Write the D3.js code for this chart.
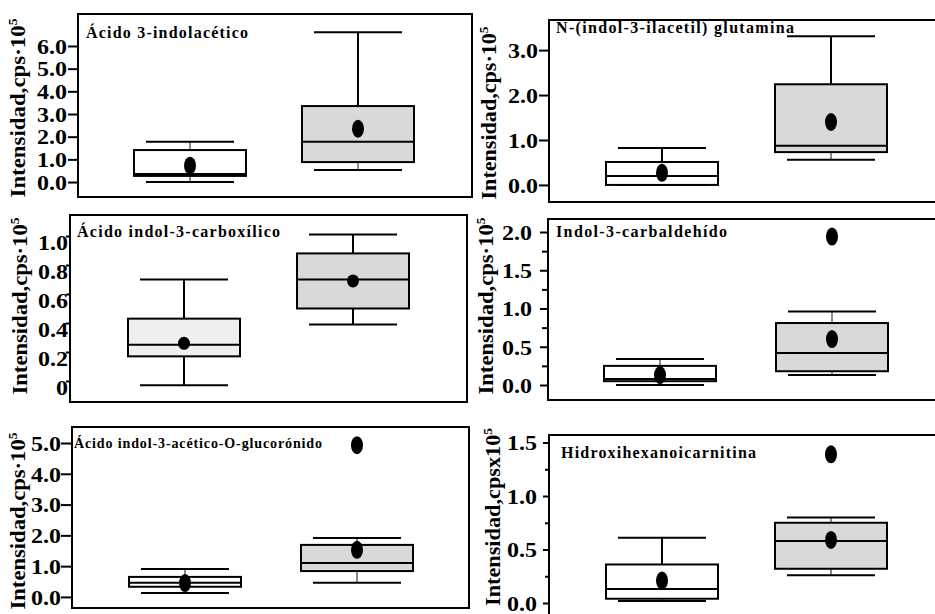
<!DOCTYPE html>
<html lang="es">
<head>
<meta charset="utf-8">
<style>
body { margin: 0; background: #fff; }
svg { font-family: "Liberation Serif", serif; font-weight: bold; }
</style>
<script src="https://cdn.jsdelivr.net/npm/d3@7"></script>
</head>
<body>
<svg width="935" height="614"></svg>
<script>

// compuestos (un panel por compuesto), dos grupos por panel
var titles = ["Ácido 3-indolacético", "N-(indol-3-ilacetil) glutamina",
              "Ácido indol-3-carboxílico", "Indol-3-carbaldehído",
              "Ácido indol-3-acético-O-glucorónido", "Hidroxihexanoicarnitina"];
var yTitles = ["Intensidad,cps·10", "Intensidad,cps·10", "Intensidad,cps·10",
               "Intensidad,cps·10", "Intensidad,cps·10", "Intensidad,cpsx10"];
var groups = ["grupo 1", "grupo 2"];

// estadisticos (x10^5 cps)
var whiskLo = [[0.00, 0.53], [0.00, 0.56], [-0.03, 0.39], [0.00, 0.13], [0.13, 0.46], [0.02, 0.26]];
var q1      = [[0.27, 0.88], [0.00, 0.73], [0.17, 0.50], [0.05, 0.18], [0.33, 0.84], [0.04, 0.32]];
var median  = [[0.35, 1.78], [0.20, 0.87], [0.25, 0.70], [0.08, 0.42], [0.46, 1.10], [0.13, 0.58]];
var q3      = [[1.41, 3.35], [0.51, 2.24], [0.43, 0.88], [0.25, 0.81], [0.65, 1.69], [0.36, 0.75]];
var whiskHi = [[1.78, 6.60], [0.82, 3.31], [0.70, 1.01], [0.34, 0.96], [0.91, 1.91], [0.61, 0.80]];
var means   = [[0.72, 2.35], [0.27, 1.40], [0.26, 0.69], [0.13, 0.60], [0.45, 1.53], [0.21, 0.59]];
var outliers = [[[], []], [[], []], [[], []], [[], [1.94]], [[], [4.93]], [[], [1.39]]];

var tickVals = [[0, 1, 2, 3, 4, 5, 6], [0, 1, 2, 3], [0, 0.2, 0.4, 0.6, 0.8, 1.0],
                [0, 0.5, 1, 1.5, 2], [0, 1, 2, 3, 4, 5], [0, 0.5, 1, 1.5]];
var tickLabels = [["0.0", "1.0", "2.0", "3.0", "4.0", "5.0", "6.0"],
                  ["0.0", "1.0", "2.0", "3.0"],
                  ["0", "0.2", "0.4", "0.6", "0.8", "1.0"],
                  ["0.0", "0.5", "1.0", "1.5", "2.0"],
                  ["0.0", "1.0", "2.0", "3.0", "4.0", "5.0"],
                  ["0.0", "0.5", "1.0", "1.5"]];
var minorTicks = [[], [], [], [0.25, 0.75, 1.25, 1.75], [], [0.25, 0.75, 1.25]];

// layout of each panel
var layout = [
  {x0: 78,  x1: 472, y0: 14,  y1: 197, dom: [-0.66, 7.41],  cx: [190, 358], tick: 10, pad: 1, dy: 0, tx: 86,  ty: 38,  tw: 162, ts: 16, lx: 25,  ly: 108, ll: 179, ry: 9, fill1: "#fff"},
  {x0: 549, x1: 945, y0: 20,  y1: 202, dom: [-0.38, 3.67],  cx: [662, 831], tick: 10, pad: 1, dy: 0, tx: 556, ty: 33,  tw: 238, ts: 16, lx: 496, ly: 113, ll: 173, ry: 9, fill1: "#fff"},
  {x0: 70,  x1: 467, y0: 215, y1: 402, dom: [-0.145, 1.145], cx: [184, 353], tick: 4, pad: -2, dy: 6, tx: 77,  ty: 237, tw: 203, ts: 16, lx: 27,  ly: 306, ll: 177, ry: 6.5, fill1: "#efefef"},
  {x0: 548, x1: 945, y0: 219, y1: 400, dom: [-0.196, 2.17], cx: [660, 832], tick: 8, pad: 8, dy: 0, tx: 556, ty: 237, tw: 171, ts: 16, lx: 493, ly: 306, ll: 177, ry: 9, fill1: "#fff"},
  {x0: 72,  x1: 469, y0: 427, y1: 608, dom: [-0.36, 5.52],  cx: [185, 357], tick: 11, pad: 0, dy: 0, tx: 74,  ty: 448, tw: 248, ts: 14, lx: 25,  ly: 521, ll: 177, ry: 9, fill1: "#fff"},
  {x0: 549, x1: 945, y0: 435, y1: 618, dom: [-0.14, 1.57],  cx: [662, 831], tick: 6, pad: 6, dy: 0, tx: 561, ty: 458, tw: 195, ts: 16, lx: 500, ly: 517, ll: 178, ry: 9, fill1: "#fff"}
];

var svg = d3.select("svg");

layout.forEach(function(L, p) {
  var g = svg.append("g");
  var y = d3.scaleLinear().domain(L.dom).range([L.y1, L.y0]);
  var x = d3.scalePoint().domain(groups).range(L.cx);

  // eje y
  var ax = g.append("g")
      .attr("transform", "translate(" + L.x0 + ",0)")
      .call(d3.axisLeft(y).tickValues(tickVals[p]).tickSize(L.tick).tickPadding(L.pad)
        .tickFormat(function(d, i) { return tickLabels[p][i]; }));
  ax.select(".domain").remove();
  ax.attr("font-family", null).attr("font-size", null);
  ax.selectAll("line").attr("stroke", "#000").attr("stroke-width", 2);
  ax.selectAll("text").attr("font-size", 22).attr("fill", "#000")
    .attr("dy", (0.33 + L.dy / 22) + "em")
    .attr("textLength", function(d, i) { return tickLabels[p][i].length > 1 ? 30 : 12; })
    .attr("lengthAdjust", "spacingAndGlyphs");

  if (minorTicks[p].length) {
    var mx = g.append("g")
        .attr("transform", "translate(" + L.x0 + ",0)")
        .call(d3.axisLeft(y).tickValues(minorTicks[p]).tickSize(L.tick - 2).tickFormat(""));
    mx.select(".domain").remove();
    mx.selectAll("line").attr("stroke", "#000").attr("stroke-width", 2);
  }

  // cajas
  groups.forEach(function(grp, k) {
    var c = x(grp);
    var hw = 56, cw = 44;
    var wcol = function(a, b) { return Math.abs(y(a) - y(b)) < 12 ? "#8a8a8a" : "#000"; };
    g.append("line").attr("x1", c).attr("x2", c).attr("y1", y(q3[p][k])).attr("y2", y(whiskHi[p][k]))
      .attr("stroke", wcol(q3[p][k], whiskHi[p][k])).attr("stroke-width", 2);
    g.append("line").attr("x1", c).attr("x2", c).attr("y1", y(q1[p][k])).attr("y2", y(whiskLo[p][k]))
      .attr("stroke", wcol(q1[p][k], whiskLo[p][k])).attr("stroke-width", 2);
    [whiskHi[p][k], whiskLo[p][k]].forEach(function(v) {
      g.append("line").attr("x1", c - cw).attr("x2", c + cw).attr("y1", y(v)).attr("y2", y(v))
        .attr("stroke", "#000").attr("stroke-width", 2);
    });
    g.append("rect").attr("x", c - hw).attr("width", 2 * hw)
      .attr("y", y(q3[p][k])).attr("height", y(q1[p][k]) - y(q3[p][k]))
      .attr("fill", k === 0 ? L.fill1 : "#d9d9d9").attr("stroke", "#000").attr("stroke-width", 2);
    g.append("line").attr("x1", c - hw).attr("x2", c + hw).attr("y1", y(median[p][k])).attr("y2", y(median[p][k]))
      .attr("stroke", "#000").attr("stroke-width", 2);
    g.append("ellipse").attr("cx", c).attr("cy", y(means[p][k])).attr("rx", 6).attr("ry", L.ry).attr("fill", "#000");
    outliers[p][k].forEach(function(v) {
      g.append("ellipse").attr("cx", c).attr("cy", y(v)).attr("rx", 6).attr("ry", L.ry).attr("fill", "#000");
    });
  });

  // marco
  g.append("rect").attr("x", L.x0).attr("y", L.y0).attr("width", L.x1 - L.x0).attr("height", L.y1 - L.y0)
    .attr("fill", "none").attr("stroke", "#000").attr("stroke-width", 2);

  // titulo del compuesto
  g.append("text").attr("x", L.tx).attr("y", L.ty).attr("font-size", L.ts)
    .attr("textLength", L.tw).attr("lengthAdjust", "spacing").text(titles[p]);

  // titulo del eje
  var yt = g.append("text").attr("transform", "translate(" + L.lx + "," + L.ly + ") rotate(-90)")
    .attr("text-anchor", "middle").attr("font-size", 20)
    .attr("textLength", L.ll).attr("lengthAdjust", "spacingAndGlyphs");
  yt.append("tspan").text(yTitles[p]);
  yt.append("tspan").attr("font-size", 12).attr("dy", -8).text("5");
});

</script>
</body>
</html>
